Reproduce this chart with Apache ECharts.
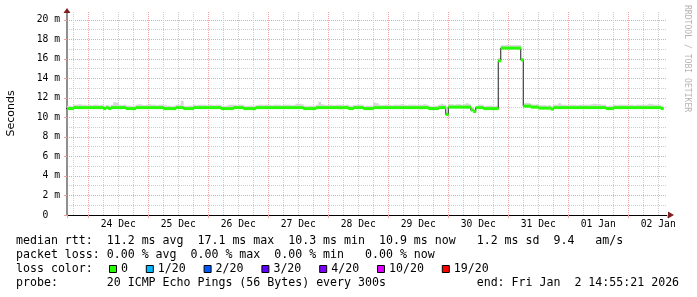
<!DOCTYPE html>
<html><head><meta charset="utf-8">
<script src="https://cdn.jsdelivr.net/npm/echarts@6/dist/echarts.min.js"></script>
<style>html,body{margin:0;padding:0;background:#fff}#c{width:697px;height:297px}</style>
</head><body><div id="c"></div>
<script>
// ---- data (hours relative to 24 Dec 00:00, one sample per hour) ----
const firstSampleHour = -9;
const sampleHours = 1;
const dayLabels = ['24 Dec','25 Dec','26 Dec','27 Dec','28 Dec','29 Dec','30 Dec','31 Dec','01 Jan','02 Jan'];
const yUnit = 'm';
// median rtt in ms
const medianDec23 = [10.9,10.9,10.9,11.0,11.0,11.0,11.0,11.0,11.0];
const medianDec24 = [11.0,11.0,11.0,11.0,11.0,11.0,10.9,11.0,10.9,11.0,11.0,11.0,11.0,11.0,11.0,10.9,10.9,10.9,10.9,11.0,11.0,11.0,11.0,11.0];
const medianDec25 = [11.0,11.0,11.0,11.0,11.0,11.0,10.9,10.9,10.9,10.9,10.9,11.0,11.0,11.0,10.9,10.9,10.9,10.9,11.0,11.0,11.0,11.0,11.0,11.0];
const medianDec26 = [11.0,11.0,11.0,11.0,11.0,10.9,10.9,10.9,10.9,10.9,11.0,11.0,11.0,11.0,10.9,10.9,10.9,10.9,10.9,11.0,11.0,11.0,11.0,11.0];
const medianDec27 = [11.0,11.0,11.0,11.0,11.0,11.0,11.0,11.0,11.0,11.0,11.0,11.0,11.0,11.0,10.9,10.9,10.9,10.9,10.9,11.0,11.0,11.0,11.0,11.0];
const medianDec28 = [11.0,11.0,11.0,11.0,11.0,11.0,11.0,11.0,10.9,10.9,11.0,11.0,11.0,11.0,10.9,10.9,10.9,10.9,11.0,11.0,11.0,11.0,11.0,11.0];
const medianDec29 = [11.0,11.0,11.0,11.0,11.0,11.0,11.0,11.0,11.0,11.0,11.0,11.0,11.0,11.0,11.0,11.0,10.9,10.9,10.9,10.9,11.0,11.0,11.0,10.3];
const medianDec30 = [11.05,11.05,11.05,11.05,11.05,11.05,11.05,11.05,11.05,10.75,10.6,11.0,11.0,11.0,10.9,10.9,10.9,10.9,10.9,10.9,15.8,17.1,17.1,17.1];
const medianDec31 = [17.1,17.1,17.1,17.1,17.1,15.9,11.15,11.15,11.15,11.05,11.05,11.05,10.95,10.95,10.95,10.95,10.95,10.85,11.0,11.0,11.0,11.0,11.0,11.0];
const medianJan01 = [11.0,11.0,11.0,11.0,11.0,11.0,11.0,11.0,11.0,11.0,11.0,11.0,11.0,11.0,11.0,10.9,10.9,10.9,11.0,11.0,11.0,11.0,11.0,11.0];
const medianJan02 = [11.0,11.0,11.0,11.0,11.0,11.0,11.0,11.0,11.0,11.0,11.0,11.0,11.0,10.9];
// smoke: spread of the pings above the median, ms
const smokeDec23 = [0.3,0.3,0.25,0.3,0.3,0.35,0.3,0.3,0.25];
const smokeDec24 = [0.3,0.25,0.3,0.3,0.25,0.3,0.3,0.25,0.3,0.3,0.55,0.5,0.3,0.25,0.3,0.3,0.3,0.25,0.3,0.3,0.35,0.3,0.25,0.3];
const smokeDec25 = [0.35,0.3,0.3,0.25,0.3,0.3,0.35,0.3,0.3,0.25,0.3,0.3,0.3,0.7,0.3,0.25,0.3,0.3,0.3,0.25,0.3,0.3,0.3,0.25];
const smokeDec26 = [0.3,0.3,0.25,0.3,0.3,0.3,0.25,0.3,0.4,0.4,0.3,0.25,0.3,0.3,0.3,0.25,0.3,0.3,0.3,0.25,0.3,0.3,0.3,0.3];
const smokeDec27 = [0.3,0.25,0.3,0.3,0.3,0.25,0.3,0.3,0.3,0.25,0.3,0.4,0.4,0.35,0.3,0.25,0.3,0.3,0.3,0.3,0.6,0.35,0.3,0.25];
const smokeDec28 = [0.3,0.3,0.25,0.3,0.3,0.3,0.25,0.3,0.3,0.3,0.25,0.3,0.3,0.3,0.25,0.3,0.3,0.3,0.5,0.45,0.3,0.25,0.3,0.3];
const smokeDec29 = [0.3,0.25,0.3,0.3,0.3,0.35,0.3,0.25,0.3,0.3,0.3,0.25,0.3,0.3,0.35,0.3,0.3,0.25,0.3,0.3,0.3,0.4,0.3,0.2];
const smokeDec30 = [0.3,0.3,0.25,0.3,0.3,0.25,0.3,0.4,0.3,0.3,0.2,0.2,0.3,0.3,0.25,0.3,0.3,0.3,0.25,0.3,0.3,0.3,0.3,0.3];
const smokeDec31 = [0.3,0.3,0.3,0.3,0.3,0.2,0.3,0.35,0.3,0.3,0.25,0.3,0.3,0.3,0.3,0.25,0.3,0.3,0.3,0.3,0.45,0.3,0.3,0.25];
const smokeJan01 = [0.3,0.3,0.3,0.25,0.3,0.3,0.3,0.3,0.3,0.35,0.4,0.35,0.35,0.3,0.3,0.25,0.3,0.3,0.3,0.25,0.3,0.3,0.3,0.3];
const smokeJan02 = [0.3,0.3,0.25,0.3,0.3,0.3,0.3,0.3,0.4,0.35,0.3,0.3,0.25,0.3];
const lossColors = ['#26ff00','#00b8ff','#0059ff','#5e00ff','#7e00ff','#dd00ff','#ff0000'];
const lossLabels = ['0','1/20','2/20','3/20','4/20','10/20','19/20'];
const statLines = [
  'median rtt:  11.2 ms avg  17.1 ms max  10.3 ms min  10.9 ms now   1.2 ms sd  9.4   am/s',
  'packet loss: 0.00 % avg  0.00 % max  0.00 % min   0.00 % now',
  'loss color:',
  'probe:       20 ICMP Echo Pings (56 Bytes) every 300s             end: Fri Jan  2 14:55:21 2026'
];

// ---- build ----
const median = [].concat(medianDec23, medianDec24, medianDec25, medianDec26, medianDec27, medianDec28, medianDec29, medianDec30, medianDec31, medianJan01, medianJan02);
const smoke = [].concat(smokeDec23, smokeDec24, smokeDec25, smokeDec26, smokeDec27, smokeDec28, smokeDec29, smokeDec30, smokeDec31, smokeJan01, smokeJan02);
const halfBand = 0.15;
const samples = median.map((m, i) => [firstSampleHour + i * sampleHours, m, smoke[i]]);
const linePts = samples.map(s => [s[0], s[1]]);
linePts.push([firstSampleHour + median.length * sampleHours, median[median.length - 1]]);

function rectItem(params, api, x0, lo, hi, fill) {
  const a = api.coord([x0, hi]);
  const b = api.coord([x0 + sampleHours, lo]);
  const cs = params.coordSys;
  const shape = echarts.graphic.clipRectByRect(
    { x: a[0], y: a[1], width: b[0] - a[0] + 0.4, height: b[1] - a[1] },
    { x: cs.x, y: cs.y, width: cs.width, height: cs.height });
  return shape ? { type: 'rect', shape, style: { fill } } : null;
}

const MONO = '"DejaVu Sans Mono", monospace';
const GRAY = '#cdcdcd', RED = '#f0a2a2', ARROW = '#801f1f';
const hidden = { show: false };

const graphic = [];
const lineY = [241, 255, 269, 283.3];
statLines.forEach((t, i) => graphic.push({ type: 'text', x: 16, y: lineY[i], silent: true,
  style: { text: t, font: '11.6px ' + MONO, fill: '#000', textVerticalAlign: 'middle', verticalAlign: 'middle' } }));
let bx = 109.5;
lossColors.forEach((c, i) => {
  graphic.push({ type: 'rect', shape: { x: bx, y: 265.5, width: 7, height: 7 }, silent: true, style: { fill: c, stroke: '#000', lineWidth: 1 } });
  const lx = bx + 11.5;
  graphic.push({ type: 'text', x: lx, y: lineY[2], silent: true, style: { text: lossLabels[i], font: '11.6px ' + MONO, fill: '#000', textVerticalAlign: 'middle', verticalAlign: 'middle' } });
  bx = lx + lossLabels[i].length * 7 + 18.3;
});
graphic.push({ type: 'text', x: 687, y: 5, rotation: -Math.PI / 2, silent: true,
  style: { text: 'RRDTOOL / TOBI OETIKER', font: '8.1px ' + MONO, fill: '#b4b4b4', textVerticalAlign: 'middle', verticalAlign: 'middle' } });

const chart = echarts.init(document.getElementById('c'), null, { renderer: 'canvas' });
chart.setOption({
  animation: false,
  backgroundColor: '#ffffff',
  grid: { left: 67, right: 30, top: 12, bottom: 82, containLabel: false, outerBoundsMode: 'none' },
  xAxis: [
    { type: 'value', position: 'bottom', min: -8.5, max: 231.5, minInterval: 6, maxInterval: 6,
      axisLine: { show: true, onZero: false, lineStyle: { color: '#000', width: 1 } },
      axisTick: hidden,
      axisLabel: { margin: 4, fontFamily: MONO, fontSize: 9.7, color: '#000',
        formatter: v => (((v % 24) + 24) % 24 === 12 ? (dayLabels[(v - 12) / 24] || '') : '') },
      splitLine: { show: true, showMinLine: false, showMaxLine: false, lineStyle: { color: GRAY, width: 1, type: [1, 1] } } },
    { type: 'value', position: 'bottom', min: -8.5, max: 231.5, minInterval: 24, maxInterval: 24,
      axisLine: { show: true, onZero: false, symbol: ['none', 'triangle'], symbolSize: [7, 6], symbolOffset: [0, 4], lineStyle: { color: ARROW, width: 0 } },
      axisTick: { show: true, length: 3, lineStyle: { color: RED } },
      axisLabel: hidden,
      splitLine: { show: true, showMinLine: false, showMaxLine: false, lineStyle: { color: RED, width: 1, type: [1, 1] } } }
  ],
  yAxis: [
    { type: 'value', position: 'left', min: 0, max: 20.8, interval: 1,
      name: 'Seconds', nameLocation: 'middle', nameRotate: 90, nameGap: 50,
      nameTextStyle: { fontFamily: '"DejaVu Sans", sans-serif', fontSize: 11, color: '#000' },
      axisLine: { show: true, onZero: false, lineStyle: { color: '#8f8f8f', width: 2 } },
      axisTick: hidden, axisLabel: hidden,
      splitLine: { show: true, showMinLine: false, showMaxLine: false, lineStyle: { color: GRAY, width: 1, type: [1, 1] } } },
    { type: 'value', position: 'left', min: 0, max: 20.8, interval: 2,
      axisLine: { show: true, onZero: false, symbol: ['none', 'triangle'], symbolSize: [7, 5], symbolOffset: [0, 1.5], lineStyle: { color: ARROW, width: 0 } },
      axisTick: { show: true, length: 3, lineStyle: { color: RED } },
      axisLabel: { margin: 7, fontFamily: MONO, fontSize: 9.7, color: '#000',
        formatter: v => (v === 0 ? '0  ' : (Number.isInteger(v) && v % 2 === 0 ? v + ' ' + yUnit : '')) },
      splitLine: { show: true, showMinLine: false, showMaxLine: false, lineStyle: { color: RED, width: 1, type: [1, 1] } } }
  ],
  series: [
    { type: 'custom', name: 'smoke', data: samples, silent: true, z: 2,
      encode: { x: 0, y: [1, 2] },
      renderItem: (params, api) => rectItem(params, api, api.value(0), api.value(1), api.value(1) + api.value(2), '#d6d6d6') },
    { type: 'line', name: 'median', data: linePts, step: 'end', symbol: 'none', silent: true, z: 3,
      lineStyle: { color: '#202020', width: 1 } },
    { type: 'custom', name: 'loss 0', data: samples, silent: true, z: 4,
      encode: { x: 0, y: 1 },
      renderItem: (params, api) => rectItem(params, api, api.value(0), api.value(1) - halfBand, api.value(1) + halfBand, lossColors[0]) }
  ],
  graphic
});
</script></body></html>
